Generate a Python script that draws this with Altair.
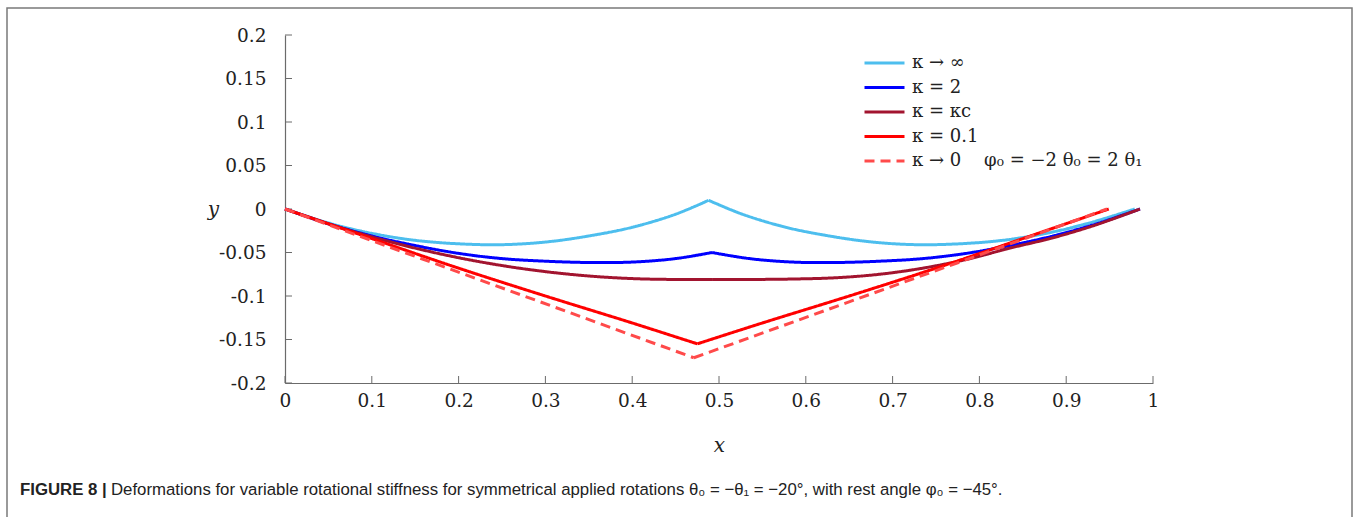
import altair as alt
import pandas as pd

# ---- data ----
series = ["κ → ∞", "κ = 2", "κ = κc", "κ = 0.1",
          "κ → 0\u00a0\u00a0\u00a0\u00a0φ₀ = −2 θ₀ = 2 θ₁"]
colors = ["#4DBEEE", "#0000FF", "#A2142F", "#FF0000", "#FF4A4A"]

# kappa -> infinity (two arcs)
inf_xl = [0, 0.05, 0.1, 0.15, 0.2, 0.25, 0.3, 0.35, 0.4, 0.45, 0.488]
inf_yl = [0, -0.016, -0.028, -0.036, -0.040, -0.041, -0.038, -0.031, -0.021, -0.006, 0.010]
inf_xr = [0.488, 0.527, 0.577, 0.627, 0.677, 0.727, 0.777, 0.827, 0.877, 0.927, 0.979]
inf_yr = [0.010, -0.006, -0.021, -0.031, -0.038, -0.041, -0.040, -0.036, -0.028, -0.016, 0]

# kappa = 2
k2_xl = [0, 0.05, 0.1, 0.15, 0.2, 0.25, 0.3, 0.35, 0.4, 0.45, 0.492]
k2_yl = [0, -0.017, -0.031, -0.042, -0.051, -0.057, -0.060, -0.0615, -0.061, -0.057, -0.050]
k2_xr = [0.492, 0.535, 0.585, 0.635, 0.685, 0.735, 0.785, 0.835, 0.885, 0.935, 0.985]
k2_yr = [-0.050, -0.057, -0.061, -0.0615, -0.060, -0.057, -0.051, -0.042, -0.031, -0.017, 0]

# kappa = kappa_c
kc_xl = [0, 0.05, 0.1, 0.15, 0.2, 0.25, 0.3, 0.35, 0.4, 0.45, 0.492]
kc_yl = [0, -0.017, -0.032, -0.045, -0.056, -0.065, -0.072, -0.077, -0.080, -0.081, -0.081]
kc_xr = [0.492, 0.535, 0.585, 0.635, 0.685, 0.735, 0.785, 0.835, 0.885, 0.935, 0.985]
kc_yr = [-0.081, -0.081, -0.0805, -0.079, -0.075, -0.068, -0.058, -0.045, -0.033, -0.018, 0]

# kappa = 0.1
k01_xl = [0, 0.1, 0.2, 0.3, 0.4, 0.475]
k01_yl = [0, -0.034, -0.068, -0.100, -0.131, -0.155]
k01_xr = [0.475, 0.55, 0.65, 0.75, 0.85, 0.949]
k01_yr = [-0.155, -0.131, -0.100, -0.068, -0.034, 0]

# kappa -> 0 (dashed)
k0_xl = [0, 0.471]
k0_yl = [0, -0.171]
k0_xr = [0.471, 0.947]
k0_yr = [-0.171, 0]

x_ticks = [0, 0.1, 0.2, 0.3, 0.4, 0.5, 0.6, 0.7, 0.8, 0.9, 1]
y_ticks = [-0.2, -0.15, -0.1, -0.05, 0, 0.05, 0.1, 0.15, 0.2]

caption_bold = "FIGURE 8 |"
caption_text = ("Deformations for variable rotational stiffness for symmetrical applied "
                "rotations θ₀ = −θ₁ = −20°, with rest angle φ₀ = −45°.")

# ---- build long table ----
rows = []
curves = [
    (series[0], inf_xl, inf_yl, inf_xr, inf_yr),
    (series[1], k2_xl, k2_yl, k2_xr, k2_yr),
    (series[2], kc_xl, kc_yl, kc_xr, kc_yr),
    (series[3], k01_xl, k01_yl, k01_xr, k01_yr),
    (series[4], k0_xl, k0_yl, k0_xr, k0_yr),
]
for name, xl, yl, xr, yr in curves:
    for i, (a, b) in enumerate(zip(xl, yl)):
        rows.append({"series": name, "seg": name + "L", "i": i, "x": a, "y": b})
    for i, (a, b) in enumerate(zip(xr, yr)):
        rows.append({"series": name, "seg": name + "R", "i": i, "x": a, "y": b})
df = pd.DataFrame(rows)

SERIF = "DejaVu Serif"
TICKF = 18.5

xscale = alt.Scale(domain=[0, 1], nice=False, zero=False)
yscale = alt.Scale(domain=[-0.2, 0.2], nice=False, zero=False)

lines = alt.Chart(df).mark_line(interpolate="catmull-rom").encode(
    x=alt.X("x:Q", scale=xscale, title="x",
            axis=alt.Axis(values=x_ticks, ticks=False, domainColor="#6b6b6b",
                          domainWidth=1.2, grid=False, labelFont=SERIF,
                          labelFontSize=TICKF, labelColor="#222", labelPadding=8,
                          labelFlush=False,
                          labelExpr="datum.value == 0 ? '0' : toString(round(datum.value*10)/10)",
                          titleFont=SERIF, titleFontStyle="italic",
                          titleFontWeight="normal", titleFontSize=20,
                          titleColor="#222", titleY=62, titleBaseline="middle")),
    y=alt.Y("y:Q", scale=yscale, title="y",
            axis=alt.Axis(values=y_ticks, ticks=False, domainColor="#6b6b6b",
                          domainWidth=1.2, grid=False, labelFont=SERIF,
                          labelFontSize=TICKF, labelColor="#222", labelPadding=19,
                          labelFlush=False,
                          labelExpr="datum.value == 0 ? '0' : toString(round(datum.value*100)/100)",
                          titleFont=SERIF, titleFontStyle="italic",
                          titleFontWeight="normal", titleFontSize=20,
                          titleColor="#222", titleAngle=0, titleX=-72,
                          titleY=174, titleAlign="center",
                          titleBaseline="middle")),
    color=alt.Color("series:N", scale=alt.Scale(domain=series, range=colors),
                    legend=alt.Legend(title=None, orient="none", legendX=578,
                                      legendY=16, symbolType="stroke",
                                      symbolSize=1600, clipHeight=24,
                                      labelFont=SERIF,
                                      labelFontSize=18, labelColor="#222",
                                      labelLimit=500, labelOffset=6,
                                      rowPadding=0.5, padding=0)),
    strokeDash=alt.StrokeDash("series:N",
                              scale=alt.Scale(domain=series,
                                              range=[[1, 0], [1, 0], [1, 0], [1, 0], [10, 6]])),
    strokeWidth=alt.StrokeWidth("series:N",
                                scale=alt.Scale(domain=series, range=[3, 3, 3, 3, 1])),
    detail="seg:N",
    order="i:Q",
)

xt = pd.DataFrame({"x": x_ticks})
yt = pd.DataFrame({"y": y_ticks})
ticks_x = alt.Chart(xt).mark_rule(color="#6b6b6b", strokeWidth=1).encode(
    x=alt.X("x:Q", scale=xscale), y=alt.value(348), y2=alt.value(341))
ticks_y = alt.Chart(yt).mark_rule(color="#6b6b6b", strokeWidth=1).encode(
    y=alt.Y("y:Q", scale=yscale), x=alt.value(0), x2=alt.value(7))

one = pd.DataFrame({"a": [0]})
frame = alt.Chart(one).mark_rect(fill="white", fillOpacity=0, stroke="#7a7a7a",
                                 strokeWidth=1.5).encode(
    x=alt.value(-278), x2=alt.value(1067), y=alt.value(-27), y2=alt.value(520))

cap_df = pd.DataFrame({"t1": [caption_bold], "t2": [caption_text]})
cap1 = alt.Chart(cap_df).mark_text(align="left", baseline="middle", font="Liberation Sans",
                                   fontSize=16.8, fontWeight="bold", color="#222").encode(
    text="t1:N", x=alt.value(-265), y=alt.value(455))
cap2 = alt.Chart(cap_df).mark_text(align="left", baseline="middle", font="Liberation Sans",
                                   fontSize=16.8, color="#222").encode(
    text="t2:N", x=alt.value(-174), y=alt.value(455))

chart = alt.layer(frame, ticks_x, ticks_y, lines, cap1, cap2).properties(
    width=868, height=348,
    autosize=alt.AutoSizeParams(type="none"),
    padding={"left": 285, "top": 35, "right": 207, "bottom": 134},
    background="white",
).configure_view(stroke=None)

chart.save("out.html", embed_options={"renderer": "svg", "actions": False})
